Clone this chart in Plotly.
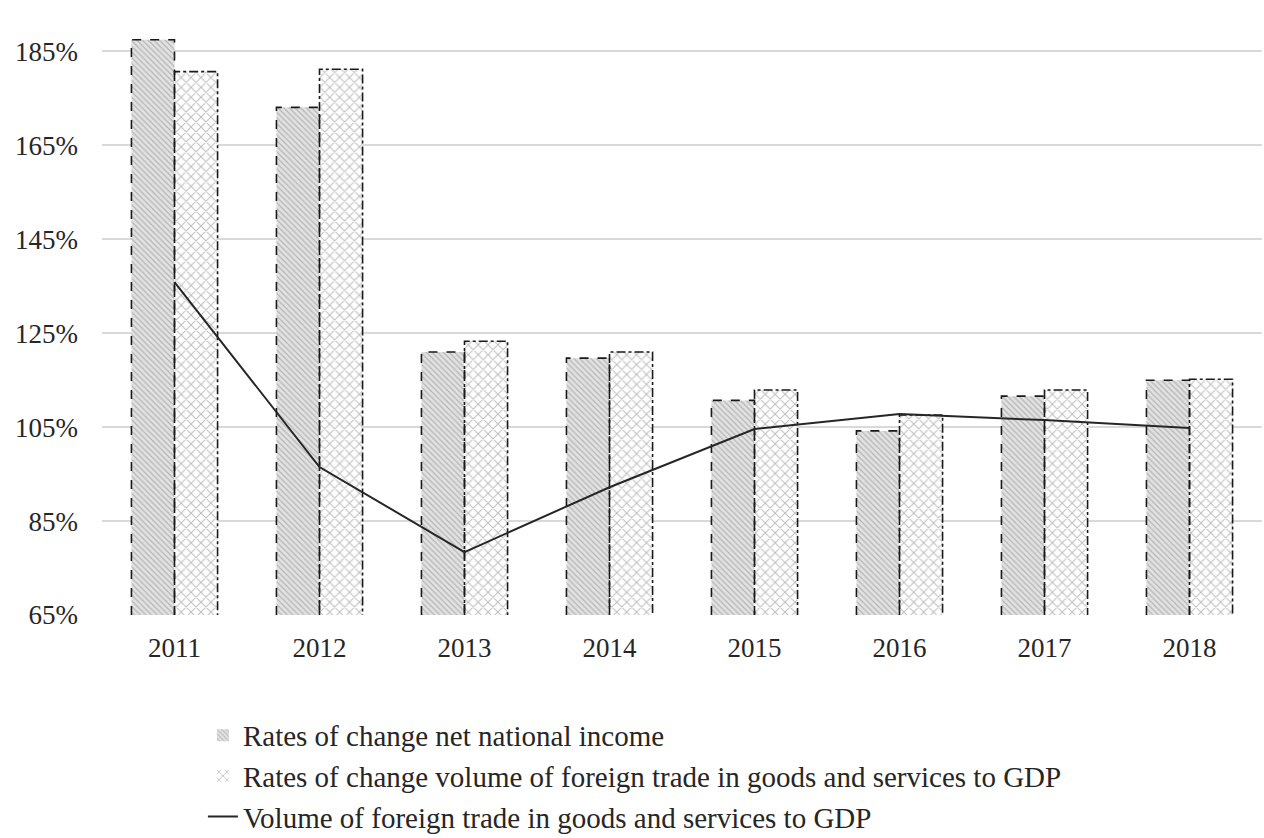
import plotly.graph_objects as go

years = ["2011", "2012", "2013", "2014", "2015", "2016", "2017", "2018"]
net_income_change = [187.5, 173.1, 121.0, 119.7, 110.7, 104.2, 111.6, 115.0]
trade_change = [180.7, 181.2, 123.3, 121.0, 112.9, 107.6, 112.9, 115.2]
trade_to_gdp = [135.9, 96.5, 78.4, 92.2, 104.6, 107.8, 106.5, 104.8]

names = [
    "Rates of change net national income",
    "Rates of change volume of foreign trade in goods and services to GDP",
    "Volume of foreign trade in goods and services to GDP",
]

BASE = 65
W = 0.297
FONT = "Liberation Serif"
FS = 27
LFS = 29
xs = list(range(len(years)))

fig = go.Figure()

fig.add_trace(go.Bar(
    x=xs, y=[v - BASE for v in net_income_change], base=BASE, width=W, offset=-W,
    name=names[0], legendgroup="a",
    marker=dict(color="#e0e0e0", line=dict(width=0),
                pattern=dict(shape="\\", fgcolor="#858585", bgcolor="#e2e2e2", size=4, solidity=0.3)),
))
fig.add_trace(go.Bar(
    x=xs, y=[v - BASE for v in trade_change], base=BASE, width=W, offset=0,
    name=names[1], legendgroup="b",
    marker=dict(color="#f4f4f4", line=dict(width=0),
                pattern=dict(shape="x", fgcolor="#808080", bgcolor="#ffffff", size=7, solidity=0.28)),
))


def outline(vals, left_off, right_off):
    ox, oy = [], []
    for i, v in zip(xs, vals):
        l, r = i + left_off, i + right_off
        ox += [l, l, r, r, None]
        oy += [BASE, v, v, BASE, None]
    return ox, oy


ox1, oy1 = outline(net_income_change, -W, 0)
fig.add_trace(go.Scatter(x=ox1, y=oy1, mode="lines", showlegend=False, hoverinfo="skip",
                         line=dict(color="#1a1a1a", width=1.6, dash="dash")))
ox2, oy2 = outline(trade_change, 0, W)
fig.add_trace(go.Scatter(x=ox2, y=oy2, mode="lines", showlegend=False, hoverinfo="skip",
                         line=dict(color="#1a1a1a", width=1.6, dash="dashdot")))

fig.add_trace(go.Scatter(
    x=xs, y=trade_to_gdp, mode="lines", name=names[2], legendgroup="c",
    line=dict(color="#262626", width=2),
))

fig.update_layout(
    width=1264, height=838,
    margin=dict(l=102, r=2, t=28, b=223, autoexpand=False),
    paper_bgcolor="white", plot_bgcolor="white",
    font=dict(family=FONT, size=FS, color="#262626"),
    barmode="overlay",
    showlegend=True,
    legend=dict(x=0.087, y=0.153, xref="paper", yref="container",
                xanchor="left", yanchor="top", orientation="v",
                tracegroupgap=0, font=dict(family=FONT, size=LFS, color="#262626"),
                itemwidth=30, bgcolor="rgba(0,0,0,0)"),
    xaxis=dict(range=[-0.5, 7.5], tickmode="array", tickvals=xs, ticktext=years,
               showgrid=False, zeroline=False, showline=False, ticks="",
               ticklabelstandoff=14,
               tickfont=dict(family=FONT, size=FS, color="#262626")),
    yaxis=dict(range=[65, 190], tickmode="array", tickvals=[65, 85, 105, 125, 145, 165, 185],
               ticktext=["65%", "85%", "105%", "125%", "145%", "165%", "185%"],
               showgrid=True, gridcolor="#d9d9d9", gridwidth=1.5, zeroline=False, showline=False,
               ticks="", ticklabelstandoff=23,
               tickfont=dict(family=FONT, size=FS, color="#262626")),
)

fig.write_html("out.html")
